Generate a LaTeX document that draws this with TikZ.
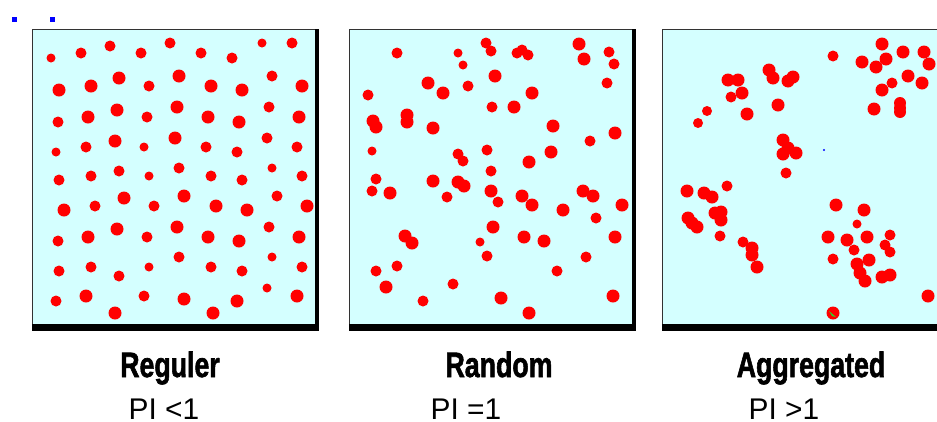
\documentclass[tikz,border=0pt]{standalone}
\usepackage{fontspec}
\setmainfont{Liberation Sans}
\newfontfamily\heavyfont[FakeBold=2]{Liberation Sans Bold}
\usepackage{xcolor}
\usetikzlibrary{positioning}
\definecolor{dotred}{RGB}{255,0,0}
\definecolor{plotbg}{RGB}{212,255,255}
\definecolor{markblue}{RGB}{0,0,255}
\definecolor{markgreen}{RGB}{40,220,40}
\tikzset{
  panelname/.style={font=\heavyfont\fontsize{10}{12}\selectfont,xscale=0.76,anchor=base,inner sep=0pt},
  pilabel/.style={font=\fontsize{8.5}{10}\selectfont,anchor=base west,inner sep=0pt},
}

\begin{document}
\begin{tikzpicture}[x=0.01cm,y=-0.01cm]
    \useasboundingbox (0,0) rectangle (937,421);
    % little blue marks
    \fill[markblue] (12,17) rectangle (17,22);
    \fill[markblue] (50,17) rectangle (55,22);
    % three panels
    \foreach \xa/\xb in {32/319, 349/636, 662/950}{
      \fill[plotbg] (\xa,29) rectangle (\xb,331);
      \draw[black!80,line width=0.3pt] (\xa+0.5,329) -- (\xa+0.5,29.5) -- (\xb-1,29.5);
      \fill[black] (\xb-4,29) rectangle (\xb,331);
      \fill[black] (\xa,324) rectangle (\xb,331);
    }
    % regular
    \foreach \x/\y/\r in {
      51/58/4.5, 81/53/5.5, 110/46/5.5, 141/53/5.5, 170/43/5.5, 201/53/5.5, 232/58/5.5, 262/43/4.5, 292/43/5.5,
      59/90/6.5, 91/86/6.5, 119/78/6.5, 149/86/5.5, 179/76/6.5, 211/86/6.5, 242/90/6.5, 272/76/5.5, 302/86/6.5,
      58/122/5.5, 88/117/6.5, 117/110/6.5, 147/117/5.5, 177/107/6.5, 208/117/6.5, 239/122/6.5, 269/107/5.5, 299/117/6.5,
      56/152/4.5, 86/147/5.5, 115/141/6.5, 144/147/4.5, 175/138/6.5, 206/147/5.5, 237/152/5.5, 267/138/5.5, 297/147/5.5,
      59/180/5.5, 91/176/5.5, 119/171/5.5, 149/176/4.5, 179/168/5.5, 211/176/5.5, 242/180/5.5, 272/168/4.5, 302/176/5.5,
      64/210/6.5, 95/206/5.5, 124/198/6.5, 154/206/5.5, 184/196/6.5, 216/206/6.5, 247/210/6.5, 277/196/5.5, 307/206/6.5,
      58/241/5.5, 88/237/6.5, 117/229/6.5, 147/237/5.5, 177/227/6.5, 208/237/6.5, 239/241/6.5, 269/227/5.5, 299/237/6.5,
      59/271/5.5, 91/267/5.5, 119/276/5.5, 149/267/4.5, 179/257/5.5, 211/267/5.5, 242/271/5.5, 272/257/4.5, 302/267/5.5,
      56/301/5.5, 86/296/6.5, 115/313/6.5, 144/296/5.5, 184/299/6.5, 213/313/6.5, 237/301/6.5, 267/288/4.5, 297/296/6.5}{
      \fill[dotred] (\x,\y) circle (\r);
    }
    % random
    \foreach \x/\y/\r in {
      397/53/5.5, 458/53/4.5, 486/43/5.5, 491/51/5.5, 463/65/4.5, 517/53/5.5, 522/50/5.5, 528/55/5.5,
      579/44/6.5, 584/59/6.5, 609/52/5.5, 614/64/5.5, 495/76/6.5, 428/83/6.5, 443/93/6.5, 468/86/5.5,
      607/83/5.5, 532/93/6.5, 368/95/5.5, 492/107/5.5, 514/107/6.5, 407/115/6.5, 407/122/6.5, 373/121/6.5,
      376/127/6.5, 433/128/6.5, 553/126/6.5, 615/133/6.5, 590/141/5.5, 372/151/4.5, 487/150/5.5, 458/154/5.5,
      463/161/5.5, 551/152/6.5, 529/162/6.5, 491/171/5.5, 376/179/5.5, 372/191/5.5, 433/181/6.5, 458/182/6.5,
      464/186/6.5, 390/193/6.5, 491/191/6.5, 447/197/5.5, 498/202/5.5, 522/196/6.5, 532/205/6.5, 583/191/6.5,
      593/196/6.5, 622/205/6.5, 563/210/6.5, 596/218/5.5, 493/227/6.5, 405/236/6.5, 412/243/6.5, 524/237/6.5,
      544/241/6.5, 615/237/6.5, 480/242/4.5, 487/256/5.5, 586/257/5.5, 376/271/5.5, 397/266/5.5, 557/271/5.5,
      453/284/5.5, 386/287/6.5, 423/301/5.5, 501/298/6.5, 613/296/6.5, 529/313/6.5}{
      \fill[dotred] (\x,\y) circle (\r);
    }
    % aggregated
    \foreach \x/\y/\r in {
      833/56/5.5, 882/44/6.5, 862/62/6.5, 876/67/6.5, 886/59/6.5, 903/52/6.5, 924/52/6.5, 929/64/6.5,
      908/76/6.5, 892/83/5.5, 922/83/6.5, 882/90/6.5, 874/109/6.5, 900/103/6, 900/108/6, 900/112/6,
      728/80/6.5, 738/80/6.5, 742/93/6.5, 731/97/5.5, 769/70/6.5, 773/78/6.5, 788/81/6.5, 793/77/6.5,
      778/105/6.5, 747/114/6.5, 707/111/5, 698/123/5, 783/140/6.5, 788/148/6.5, 783/154/6.5, 796/153/6.5,
      786/173/5.5, 687/191/6.5, 704/193/6.5, 712/197/6.5, 727/186/5.5, 715/213/6.5, 721/212/6.5, 721/220/6.5,
      688/218/6.5, 697/227/6.5, 692/223/6.5, 720/236/5.5, 743/242/5.5, 752/248/6.5, 752/255/6.5, 757/267/6.5,
      836/205/6.5, 864/210/6.5, 857/224/4.5, 828/237/6.5, 847/240/6.5, 854/250/5.5, 867/237/6.5, 890/235/5.5,
      885/245/5.5, 890/252/5.5, 833/259/5.5, 869/260/6.5, 857/264/6.5, 860/273/6.5, 865/281/6.5, 882/277/6.5,
      890/275/6.5, 928/296/6.5, 833/313/6.5}{
      \fill[dotred] (\x,\y) circle (\r);
    }
    \fill[markblue] (824,150) circle (1.2);
    \fill[markgreen] (832,316) -- (829,311) -- (836,317) -- cycle;
    % names under the panels
    \node[panelname] (reguler) at (170,377) {Reguler};
    \node[panelname] (random) at (499,377) {Random};
    \node[panelname] (aggregated) at (811,377) {Aggregated};
    \node[pilabel] (pilow) at (128,419) {PI <1};
    \node[pilabel] (pieq) at (430,419) {PI =1};
    \node[pilabel] (pihigh) at (748,419) {PI >1};
\end{tikzpicture}
\end{document}
